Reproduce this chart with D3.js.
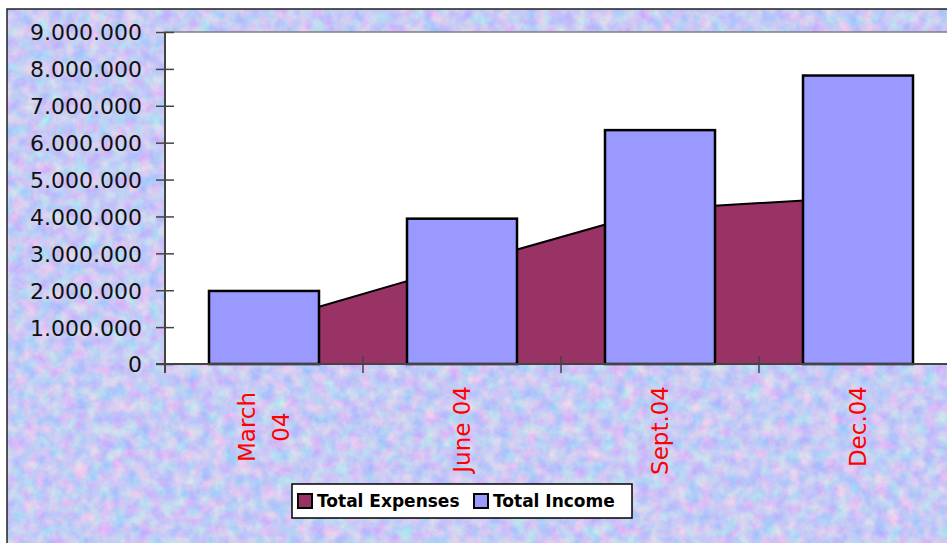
<!DOCTYPE html>
<html>
<head>
<meta charset="utf-8">
<style>
  body { margin: 0; background: #fff; }
  text { font-family: "DejaVu Sans", sans-serif; }
</style>
</head>
<body>
<svg id="chart" width="947" height="543"></svg>
<script src="https://cdn.jsdelivr.net/npm/d3@7"></script>
<script>
  // values
  let categories = ["March\n04", "June 04", "Sept.04", "Dec.04"]
  let income = [1980000, 3940000, 6340000, 7820000]
  let expenses = [1120000, 2680000, 4200000, 4520000]
  let yTicks = [0, 1000000, 2000000, 3000000, 4000000, 5000000, 6000000, 7000000, 8000000, 9000000]
  let seriesNames = ["Total Expenses", "Total Income"]

  let colors = { expenses: "#993366", income: "#9999ff" }
  let svg = d3.select("#chart")

  // mottled background texture
  let defs = svg.append("defs")
  let filt = defs.append("filter").attr("id", "tex")
    .attr("x", 0).attr("y", 0).attr("width", "100%").attr("height", "100%")
    .attr("color-interpolation-filters", "sRGB")
  filt.append("feTurbulence").attr("type", "fractalNoise")
    .attr("baseFrequency", 0.08).attr("numOctaves", 4).attr("seed", 7)
  filt.append("feColorMatrix").attr("type", "matrix")
    .attr("values", "0.3 -0.15 -0.25 0 0.83  -0.1 0.15 -0.2 0 0.87  0 0 0.1 0 0.91  0 0 0 0 1")

  svg.append("rect").attr("x", 7).attr("y", 9).attr("width", 1000).attr("height", 600)
    .attr("fill", "#cfdcf5")
  svg.append("rect").attr("x", 7).attr("y", 9).attr("width", 1000).attr("height", 600)
    .attr("filter", "url(#tex)")
  svg.append("rect").attr("x", 7).attr("y", 9).attr("width", 1000).attr("height", 600)
    .attr("fill", "none").attr("stroke", "#222").attr("stroke-width", 1.5)

  let pLeft = 165, pRight = 957, pTop = 32, pBottom = 364

  let x = d3.scaleBand().domain(categories).range([pLeft, pRight]).padding(0)
  let y = d3.scaleLinear().domain([0, 9000000]).range([pBottom, pTop])
  let barW = x.bandwidth() / 1.8

  // plot area
  svg.append("rect").attr("x", pLeft).attr("y", pTop)
    .attr("width", pRight - pLeft).attr("height", pBottom - pTop)
    .attr("fill", "white").attr("stroke", "#808080").attr("stroke-width", 1.5)

  // expenses area
  let area = d3.area()
    .x((d, i) => x(categories[i]) + x.bandwidth() / 2)
    .y0(y(0))
    .y1(d => y(d))
  svg.append("path").datum(expenses)
    .attr("d", area)
    .attr("fill", colors.expenses)
    .attr("stroke", "black").attr("stroke-width", 2)

  // income bars
  svg.selectAll(".bar").data(income).enter().append("rect")
    .attr("class", "bar")
    .attr("x", (d, i) => x(categories[i]) + (x.bandwidth() - barW) / 2)
    .attr("y", d => y(d))
    .attr("width", barW)
    .attr("height", d => y(0) - y(d))
    .attr("fill", colors.income)
    .attr("stroke", "black").attr("stroke-width", 2.5)

  // y axis
  let loc = d3.formatLocale({ decimal: ",", thousands: ".", grouping: [3], currency: ["", ""] })
  let fmt = loc.format(",")
  let yAxis = svg.append("g").attr("transform", `translate(${pLeft},0)`)
    .call(d3.axisLeft(y).tickValues(yTicks).tickFormat(fmt).tickSize(9).tickPadding(14))
  yAxis.select(".domain").attr("stroke", "#444").attr("stroke-width", 2)
    .attr("d", `M0,${pTop}V${pBottom + 9}`)
  yAxis.selectAll(".tick line").attr("x1", 9).attr("stroke", "#444").attr("stroke-width", 1.5)
  yAxis.selectAll(".tick text").attr("font-size", 22).attr("fill", "#111")
    .attr("font-family", "DejaVu Sans").attr("dy", "0.36em")

  // x axis
  let bounds = categories.map(c => x(c)).concat([pRight])
  svg.append("line").attr("x1", pLeft - 9).attr("x2", pRight).attr("y1", pBottom).attr("y2", pBottom)
    .attr("stroke", "#444").attr("stroke-width", 2)
  svg.selectAll(".xtick").data(bounds).enter().append("line")
    .attr("x1", d => d).attr("x2", d => d)
    .attr("y1", pBottom - 8).attr("y2", pBottom + 9)
    .attr("stroke", "#444").attr("stroke-width", 1.5)

  // category labels, rotated
  categories.forEach(c => {
    let lines = c.split("\n")
    let cx = x(c) + x.bandwidth() / 2
    let g = svg.append("g").attr("transform", `translate(${cx},386) rotate(-90)`)
    lines.forEach((ln, j) => {
      let off = (j - (lines.length - 1) / 2) * 34
      g.append("text")
        .attr("x", lines.length > 1 ? -41 : 0)
        .attr("y", off)
        .attr("dy", "0.36em")
        .attr("text-anchor", lines.length > 1 ? "middle" : "end")
        .attr("font-size", 23)
        .attr("fill", "#ff0000")
        .text(ln)
    })
  })

  // legend
  let lg = svg.append("g")
  lg.append("rect").attr("x", 292).attr("y", 484).attr("width", 340).attr("height", 34)
    .attr("fill", "white").attr("stroke", "black").attr("stroke-width", 1.5)
  let items = [
    { name: seriesNames[0], color: colors.expenses, x: 298 },
    { name: seriesNames[1], color: colors.income, x: 474 }
  ]
  items.forEach(it => {
    lg.append("rect").attr("x", it.x).attr("y", 494).attr("width", 14).attr("height", 14)
      .attr("fill", it.color).attr("stroke", "black").attr("stroke-width", 2)
    lg.append("text").attr("x", it.x + 19).attr("y", 507)
      .attr("font-size", 17).attr("font-weight", "bold").attr("fill", "black")
      .text(it.name)
  })
</script>
</body>
</html>
